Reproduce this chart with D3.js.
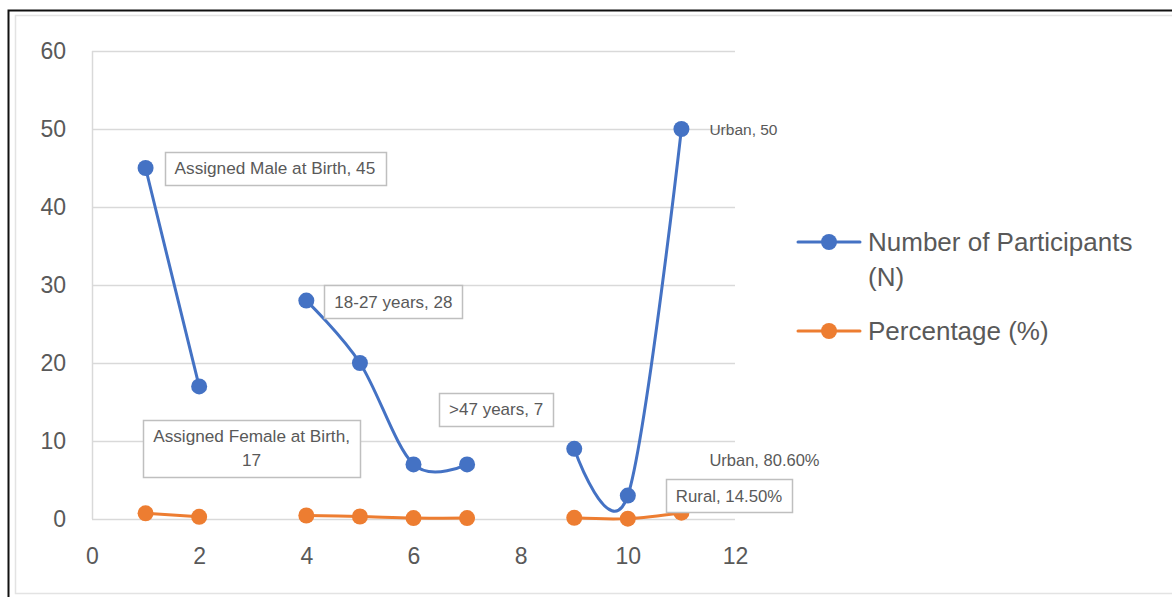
<!DOCTYPE html>
<html>
<head>
<meta charset="utf-8">
<script src="https://cdn.jsdelivr.net/npm/d3@7"></script>
<style>
  html, body { margin: 0; padding: 0; background: #fff; }
  svg { display: block; }
</style>
</head>
<body>
<svg id="chart" width="1172" height="597"></svg>
<script>
// Position on the x axis for each group (gaps separate the groups)
const xValues = [1, 2, 3, 4, 5, 6, 7, 8, 9, 10, 11];
// Number of participants (N); null leaves a gap in the line
const participants = [45, 17, null, 28, 20, 7, 7, null, 9, 3, 50];
// Share of participants, as a fraction of the 62 total
const percentages = [0.726, 0.274, null, 0.452, 0.323, 0.113, 0.113, null, 0.145, 0.048, 0.806];
const xTicks = [0, 2, 4, 6, 8, 10, 12];
const yTicks = [0, 10, 20, 30, 40, 50, 60];
const seriesNames = [["Number of Participants", "(N)"], ["Percentage (%)"]];

// Callout labels: which series, which x, and the text lines
const callouts = [
  { series: 0, x: 1, lines: ["Assigned Male at Birth, 45"], box: true },
  { series: 0, x: 2, lines: ["Assigned Female at Birth,", "17"], box: true },
  { series: 0, x: 4, lines: ["18-27 years, 28"], box: true },
  { series: 0, x: 7, lines: [">47 years, 7"], box: true },
  { series: 0, x: 11, lines: ["Urban, 50"], box: false },
  { series: 1, x: 11, lines: ["Urban, 80.60%"], box: false },
  { series: 1, x: 10, lines: ["Rural, 14.50%"], box: true }
];
// Callout placement relative to the point (box left edge / vertical centre) and font size
const calloutLayout = [
  { dx: 19, dy: 0, size: 17.2 },
  { dx: -56, dy: 62, size: 17.2 },
  { dx: 18, dy: 1, size: 17 },
  { dx: -28, dy: -55, size: 17 },
  { dx: 28, dy: 1, size: 15.5 },
  { dx: 28, dy: -52, size: 16.5 },
  { dx: 38, dy: -23, size: 16.8 }
];

const BLUE = "#4472C4";
const ORANGE = "#ED7D31";
const TEXT = "#595959";
const GRID = "#D9D9D9";
const FONT = "'Liberation Sans', Arial, sans-serif";

const svg = d3.select("#chart");

// Outer frame
svg.append("rect").attr("x", 8.5).attr("y", 10.5).attr("width", 1180).attr("height", 600)
  .attr("fill", "none").attr("stroke", "#111").attr("stroke-width", 2);
svg.append("rect").attr("x", 15.5).attr("y", 15.5).attr("width", 1170).attr("height", 578)
  .attr("fill", "none").attr("stroke", "#E3E3E3").attr("stroke-width", 1.5);

const x = d3.scaleLinear().domain([0, 12]).range([92, 735]);
const y = d3.scaleLinear().domain([0, 60]).range([519, 51]);

// Horizontal gridlines
svg.append("g").selectAll("line").data(yTicks).join("line")
  .attr("x1", x(0)).attr("x2", x(12))
  .attr("y1", d => Math.round(y(d)) + 0.5).attr("y2", d => Math.round(y(d)) + 0.5)
  .attr("stroke", GRID).attr("stroke-width", 1.5);
// Vertical axis line
svg.append("line").attr("x1", x(0) + 0.5).attr("x2", x(0) + 0.5)
  .attr("y1", y(60)).attr("y2", y(0))
  .attr("stroke", GRID).attr("stroke-width", 1.5);

// Axes (labels only; lines drawn above)
const yAxis = svg.append("g").attr("transform", `translate(${x(0)},0)`)
  .call(d3.axisLeft(y).tickValues(yTicks).tickSize(0).tickPadding(26));
yAxis.select(".domain").remove();
yAxis.selectAll("text").attr("fill", TEXT).style("font-family", FONT).style("font-size", "23px");

const xAxis = svg.append("g").attr("transform", `translate(0,${y(0)})`)
  .call(d3.axisBottom(x).tickValues(xTicks).tickSize(0).tickPadding(29));
xAxis.select(".domain").remove();
xAxis.selectAll("text").attr("fill", TEXT).style("font-family", FONT).style("font-size", "23px");

// Series
const seriesData = [participants, percentages].map(vals =>
  xValues.map((xv, i) => ({ x: xv, v: vals[i] })));
const colors = [BLUE, ORANGE];

const line = d3.line()
  .defined(d => d.v !== null)
  .x(d => x(d.x)).y(d => y(d.v))
  .curve(d3.curveCardinal.tension(0));

seriesData.forEach((data, s) => {
  const g = svg.append("g");
  g.append("path").datum(data).attr("d", line)
    .attr("fill", "none").attr("stroke", colors[s]).attr("stroke-width", 3)
    .attr("stroke-linejoin", "round").attr("stroke-linecap", "round");
  g.selectAll("circle").data(data.filter(d => d.v !== null)).join("circle")
    .attr("cx", d => x(d.x)).attr("cy", d => y(d.v)).attr("r", 8)
    .attr("fill", colors[s]);
});

// Callouts
callouts.forEach((c, i) => {
  const lay = calloutLayout[i];
  const idx = xValues.indexOf(c.x);
  const v = seriesData[c.series][idx].v;
  const px = x(c.x), py = y(v);
  const g = svg.append("g");
  const lh = 24;
  const text = g.append("text")
    .attr("fill", TEXT).style("font-family", FONT).style("font-size", lay.size + "px")
    .attr("text-anchor", c.box ? "middle" : "start");
  c.lines.forEach((t, k) => {
    text.append("tspan").attr("x", 0).attr("y", k * lh).attr("dy", "0.35em").text(t);
  });
  const bb = text.node().getBBox();
  const padX = 10;
  const w = bb.width + padX * 2;
  const h = (c.lines.length - 1) * lh + 33;
  if (c.box) {
    const cx = px + lay.dx + w / 2;
    const cy = py + lay.dy;
    const top = cy - h / 2;
    g.insert("rect", "text")
      .attr("x", Math.round(cx - w / 2) + 0.5).attr("y", Math.round(top) + 0.5)
      .attr("width", Math.round(w)).attr("height", Math.round(h))
      .attr("fill", "#fff").attr("stroke", "#BFBFBF").attr("stroke-width", 1.5);
    text.attr("transform", `translate(${cx},${cy - (c.lines.length - 1) * lh / 2})`);
  } else {
    text.attr("transform", `translate(${px + lay.dx},${py + lay.dy})`);
  }
});

// Legend
const legend = svg.append("g");
const legendRows = [242, 331];
legendRows.forEach((ry, s) => {
  const g = legend.append("g").attr("transform", `translate(0,${ry})`);
  g.append("line").attr("x1", 798).attr("x2", 860).attr("y1", 0).attr("y2", 0)
    .attr("stroke", colors[s]).attr("stroke-width", 3).attr("stroke-linecap", "round");
  g.append("circle").attr("cx", 829).attr("cy", 0).attr("r", 8).attr("fill", colors[s]);
  const t = g.append("text").attr("fill", TEXT).style("font-family", FONT).style("font-size", "26px");
  seriesNames[s].forEach((txt, k) => {
    t.append("tspan").attr("x", 868).attr("y", k * 35).attr("dy", "0.35em").text(txt);
  });
});
</script>
</body>
</html>
